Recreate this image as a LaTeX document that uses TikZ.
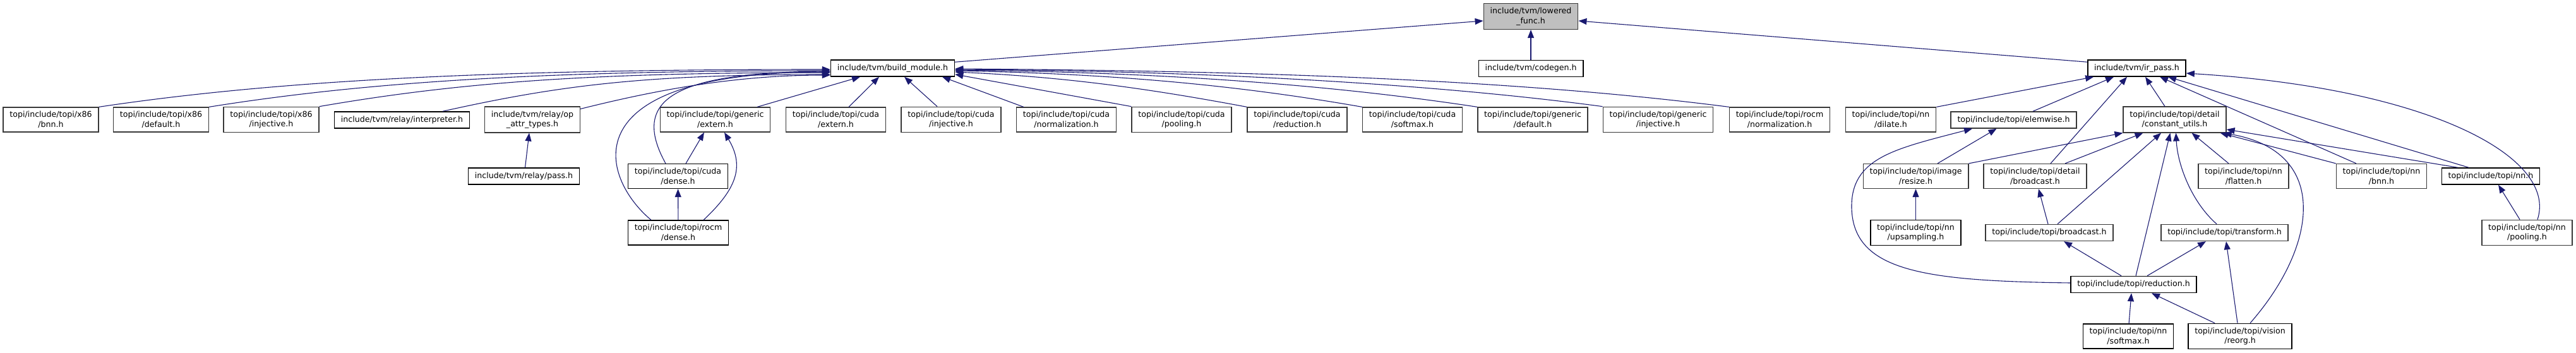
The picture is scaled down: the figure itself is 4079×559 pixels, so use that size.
\documentclass[tikz,border=0pt]{standalone}
\usepackage{fontspec}
\setmainfont{DejaVu Sans}
\usepackage{tikz}
\usetikzlibrary{arrows.meta}
\definecolor{edgeblue}{HTML}{191970}
\definecolor{rootgray}{HTML}{BFBFBF}
\definecolor{docgray}{HTML}{383838}

\begin{document}
\begin{tikzpicture}[x=1pt,y=-1pt,
  font=\fontsize{12.6}{15.6}\selectfont,
  hdr/.style={draw=#1,line width=1.5pt,fill=white,inner xsep=10.3pt,inner ysep=6.2pt,minimum height=26pt,align=center},
  hdr/.default=docgray,
  root/.style={hdr,fill=rootgray},
  e/.style={-{Triangle[length=13pt,width=10pt]},draw=edgeblue,line width=1.1pt}]
  \useasboundingbox (0,0) rectangle (4079,559);
  \node[root] (lowfunc) at (2424,26) {include/tvm/lowered\\\_func.h};
  \node[hdr=black] (buildmod) at (1413.5,108) {include/tvm/build\_module.h};
  \node[hdr=black] (codegen) at (2424,108.5) {include/tvm/codegen.h};
  \node[hdr=black] (irpass) at (3383.5,108) {include/tvm/ir\_pass.h};
  \node[hdr] (x86bnn) at (80.5,189.5) {topi/include/topi/x86\\/bnn.h};
  \node[hdr] (x86def) at (255,189.5) {topi/include/topi/x86\\/default.h};
  \node[hdr] (x86inj) at (429.5,189.5) {topi/include/topi/x86\\/injective.h};
  \node[hdr=black] (interp) at (636.5,190) {include/tvm/relay/interpreter.h};
  \node[hdr] (opattr) at (843,189.5) {include/tvm/relay/op\\\_attr\_types.h};
  \node[hdr] (genext) at (1132.5,189.5) {topi/include/topi/generic\\/extern.h};
  \node[hdr] (cudaext) at (1323.5,189.5) {topi/include/topi/cuda\\/extern.h};
  \node[hdr] (cudainj) at (1506,189.5) {topi/include/topi/cuda\\/injective.h};
  \node[hdr] (cudanorm) at (1688.5,189.5) {topi/include/topi/cuda\\/normalization.h};
  \node[hdr] (cudapool) at (1871,189.5) {topi/include/topi/cuda\\/pooling.h};
  \node[hdr] (cudared) at (2054,189.5) {topi/include/topi/cuda\\/reduction.h};
  \node[hdr] (cudasoft) at (2236.5,189.5) {topi/include/topi/cuda\\/softmax.h};
  \node[hdr] (gendef) at (2427,189.5) {topi/include/topi/generic\\/default.h};
  \node[hdr] (geninj) at (2625.5,189.5) {topi/include/topi/generic\\/injective.h};
  \node[hdr] (rocmnorm) at (2818,189.5) {topi/include/topi/rocm\\/normalization.h};
  \node[hdr] (dilate) at (2994,189.5) {topi/include/topi/nn\\/dilate.h};
  \node[hdr] (elemwise) at (3188.5,190) {topi/include/topi/elemwise.h};
  \node[hdr] (constutil) at (3443.5,189.5) {topi/include/topi/detail\\/constant\_utils.h};
  \node[hdr=black] (pass) at (829.5,279) {include/tvm/relay/pass.h};
  \node[hdr=black] (cudadense) at (1073.5,279) {topi/include/topi/cuda\\/dense.h};
  \node[hdr] (resize) at (3033.5,279) {topi/include/topi/image\\/resize.h};
  \node[hdr] (detbcast) at (3222.5,279) {topi/include/topi/detail\\/broadcast.h};
  \node[hdr] (flatten) at (3552.5,279) {topi/include/topi/nn\\/flatten.h};
  \node[hdr] (nnbnn) at (3771,279) {topi/include/topi/nn\\/bnn.h};
  \node[hdr=black] (nnh) at (3944,279) {topi/include/topi/nn.h};
  \node[hdr=black] (rocmdense) at (1074,368.5) {topi/include/topi/rocm\\/dense.h};
  \node[hdr=black] (upsamp) at (3033.5,368.5) {topi/include/topi/nn\\/upsampling.h};
  \node[hdr] (bcast) at (3245,368.5) {topi/include/topi/broadcast.h};
  \node[hdr] (transform) at (3522.5,368.5) {topi/include/topi/transform.h};
  \node[hdr] (nnpool) at (4001.5,368.5) {topi/include/topi/nn\\/pooling.h};
  \node[hdr=black] (reduce) at (3378.5,450.5) {topi/include/topi/reduction.h};
  \node[hdr=black] (softmax) at (3370,532.5) {topi/include/topi/nn\\/softmax.h};
  \node[hdr=black] (reorg) at (3547,532.5) {topi/include/topi/vision\\/reorg.h};
  % lowered_func
  \draw[e] ([yshift=-4pt]buildmod.north east) -- ([yshift=-7pt]lowfunc.west);
  \draw[e] (codegen) -- (lowfunc);
  \draw[e] ([yshift=-4pt]irpass.north west) -- ([yshift=-7pt]lowfunc.east);
  % build_module
  \draw[e] (x86bnn.north east) .. controls +(294,-44) and +(-515,0) .. ([yshift=-2pt]buildmod.west);
  \draw[e] (x86def.north east) .. controls +(250,-40) and +(-450,0) .. ([yshift=-4pt]buildmod.west);
  \draw[e] (x86inj.north east) .. controls +(220,-38) and +(-380,0) .. ([yshift=-7pt]buildmod.west);
  \draw[e] ([xshift=64.5pt]interp.north) .. controls +(180,-40) and +(-300,0) .. ([yshift=-10pt]buildmod.west);
  \draw[e] ([yshift=-4pt]opattr.north east) .. controls +(120,-30) and +(-150,0) .. ([yshift=-11pt]buildmod.west);
  \draw[e] ([xshift=-19.5pt]cudadense.north) .. controls +(-54,-98) and +(-255,2) .. ([yshift=-5pt]buildmod.west);
  \draw[e] ([xshift=-43pt]rocmdense.north) .. controls +(-81,-68) and +(-415,1) .. ([yshift=-6pt]buildmod.west);
  \draw[e] ([xshift=66.5pt]genext.north) -- ([xshift=-51.5pt]buildmod.south);
  \draw[e] ([xshift=20.5pt]cudaext.north) -- ([xshift=-21.5pt]buildmod.south);
  \draw[e] ([xshift=-22pt]cudainj.north) -- ([xshift=18.5pt]buildmod.south);
  \draw[e] ([xshift=12pt]cudanorm.north west) -- ([xshift=78.5pt]buildmod.south);
  \draw[e] (cudapool.north west) -- ([yshift=4pt]buildmod.south east);
  \draw[e] (cudared.north west) .. controls +(-150,-28) and +(180,8) .. ([yshift=-6pt]buildmod.east);
  \draw[e] (cudasoft.north west) .. controls +(-200,-35) and +(250,5) .. ([yshift=-4pt]buildmod.east);
  \draw[e] (gendef.north west) .. controls +(-250,-38) and +(300,3) .. ([yshift=-3pt]buildmod.east);
  \draw[e] (geninj.north west) .. controls +(-300,-40) and +(350,2) .. ([yshift=-2pt]buildmod.east);
  \draw[e] (rocmnorm.north west) .. controls +(-350,-45) and +(450,3) .. ([yshift=-1pt]buildmod.east);
  % relay, cuda and rocm
  \draw[e] ([xshift=2pt]pass.north) -- ([xshift=-5pt]opattr.south);
  \draw[e] ([xshift=12.5pt]cudadense.north) -- ([xshift=-17.5pt]genext.south);
  \draw[e] ([xshift=40pt]rocmdense.north) .. controls +(51,-48) and +(33,55) .. ([xshift=14.5pt]genext.south);
  \draw[e] (rocmdense) -- (cudadense);
  % ir_pass
  \draw[e] (dilate.north east) -- ([xshift=10pt]irpass.south west);
  \draw[e] ([xshift=30.5pt]elemwise.north) -- ([xshift=-36.5pt]irpass.south);
  \draw[e] ([xshift=24.5pt]detbcast.north) -- ([xshift=-15.5pt]irpass.south);
  \draw[e] ([xshift=-15.5pt]constutil.north) -- ([xshift=13.5pt]irpass.south);
  \draw[e] ([xshift=-40pt]nnbnn.north) -- ([xshift=36.5pt]irpass.south);
  \draw[e] ([xshift=-35pt]nnh.north) -- ([xshift=49.5pt]irpass.south);
  \draw[e] ([xshift=16.5pt]nnpool.north) .. controls +(32,-98) and +(388,24) .. ([yshift=-8pt]irpass.east);
  % constant_utils
  \draw[e] (resize.north east) -- (constutil.south west);
  \draw[e] ([xshift=47.5pt]detbcast.north) -- ([xshift=-50pt]constutil.south);
  \draw[e] ([xshift=13pt]bcast.north) -- ([xshift=-21.5pt]constutil.south);
  \draw[e] ([xshift=3.5pt]reduce.north) -- ([xshift=-7pt]constutil.south);
  \draw[e] ([xshift=-12.5pt]transform.north) .. controls +(-40,-35) and +(2.5,50) .. ([xshift=2pt]constutil.south);
  \draw[e] ([xshift=-23.5pt]flatten.north) -- ([xshift=27pt]constutil.south);
  \draw[e] (nnbnn.north west) -- ([xshift=-10pt]constutil.south east);
  \draw[e] ([xshift=16pt]reorg.north) .. controls +(107,-122) and +(170,30) .. ([xshift=-5pt]constutil.south east);
  \draw[e] ([xshift=26pt]nnh.north west) -- ([yshift=-15.5pt]constutil.east);
  % elemwise and the rest
  \draw[e] ([xshift=34.5pt]resize.north) -- ([xshift=-27pt]elemwise.south);
  \draw[e] ([yshift=2.5pt]reduce.west) .. controls +(-230,-3) and +(3,100) .. (2932,330)
    .. controls +(-2,-80) and +(-123,32) .. ([xshift=-65.5pt]elemwise.south);
  \draw[e] (upsamp) -- (resize);
  \draw[e] ([xshift=-2pt]bcast.north) -- ([xshift=5.5pt]detbcast.south);
  \draw[e] ([xshift=-19.5pt]reduce.north) -- ([xshift=23pt]bcast.south);
  \draw[e] ([xshift=21.5pt]reduce.north) -- ([xshift=-29.5pt]transform.south);
  \draw[e] ([xshift=-4pt]reorg.north) -- ([xshift=2.5pt]transform.south);
  \draw[e] ([xshift=1pt]softmax.north) -- ([xshift=-3.5pt]reduce.south);
  \draw[e] ([xshift=-40pt]reorg.north) -- ([xshift=28.5pt]reduce.south);
  \draw[e] ([xshift=-11.5pt]nnpool.north) -- ([xshift=12pt]nnh.south);
\end{tikzpicture}
\end{document}
